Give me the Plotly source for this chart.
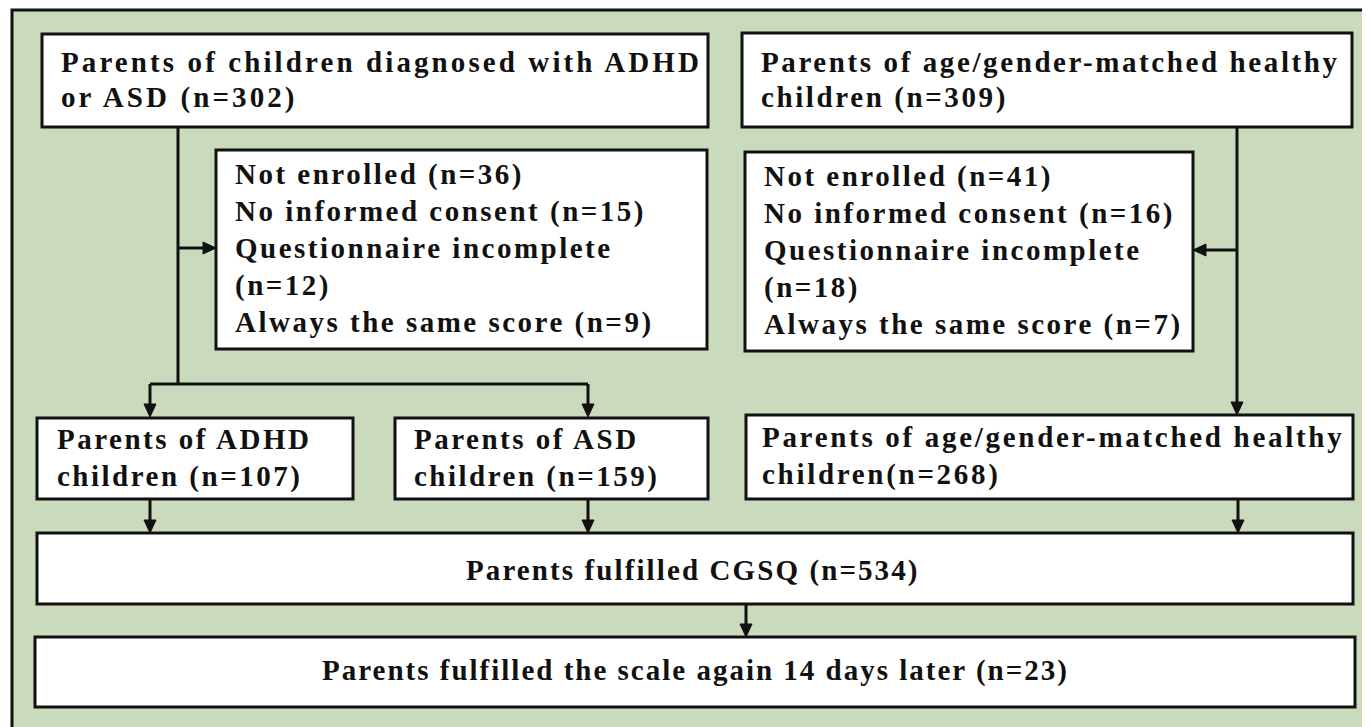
import plotly.graph_objects as go

# ---- data (flow counts) ----
adhd_asd_total = 302
healthy_total = 309
excl_labels = ["Not enrolled", "No informed consent", "Questionnaire incomplete", "Always the same score"]
excl_left = [36, 15, 12, 9]
excl_right = [41, 16, 18, 7]
adhd_n = 107
asd_n = 159
healthy_n = 268
cgsq_n = 534
retest_n = 23

W, H = 1370, 727
OFF = 8  # page body margin
BG = "#cadabd"
INK = "#111111"
FAMILY = "Liberation Serif, Times New Roman, serif"

fig = go.Figure()
shapes = []
annotations = []


def box(x0, y0, x1, y1):
    shapes.append(dict(type="rect", x0=x0, y0=y0, x1=x1, y1=y1, xref="x", yref="y",
                       line=dict(color=INK, width=3), fillcolor="white", layer="above"))


def line(x0, y0, x1, y1):
    shapes.append(dict(type="line", x0=x0, y0=y0, x1=x1, y1=y1, xref="x", yref="y",
                       line=dict(color=INK, width=3), layer="above"))


def tri(path):
    shapes.append(dict(type="path", path=path, xref="x", yref="y", fillcolor=INK,
                       line=dict(color=INK, width=1), layer="above"))


def arrow_down(x, y0, y1):
    line(x, y0, x, y1 - 10)
    tri(f"M {x-6},{y1-13} L {x+6},{y1-13} L {x},{y1} Z")


def arrow_right(x0, x1, y):
    line(x0, y, x1 - 10, y)
    tri(f"M {x1-13},{y-6} L {x1-13},{y+6} L {x1},{y} Z")


def arrow_left(x0, x1, y):
    line(x0, y, x1 + 10, y)
    tri(f"M {x1+13},{y-6} L {x1+13},{y+6} L {x1},{y} Z")


def text_lines(x, baselines, lines, anchor="left", size=29, ls=2.5):
    for bl, t in zip(baselines, lines):
        annotations.append(dict(
            x=x, y=bl - 0.34 * size, xref="x", yref="y",
            text=f'<b><span style="letter-spacing:{ls}px">{t}</span></b>',
            showarrow=False, xanchor=anchor, yanchor="middle", align=anchor,
            font=dict(family=FAMILY, size=size, color=INK)))


# outer frame
shapes.append(dict(type="rect", x0=12, y0=10, x1=1380, y1=740, xref="x", yref="y",
                   line=dict(color=INK, width=3), fillcolor=BG, layer="below"))

# top boxes
box(42, 34, 708, 127)
text_lines(59, [72, 107], ["Parents of children diagnosed with ADHD", f"or ASD (n={adhd_asd_total})"], ls=3.1)
box(742, 33, 1352, 127)
text_lines(759, [72, 107], ["Parents of age/gender-matched healthy", f"children (n={healthy_total})"], ls=2.6)

# exclusion boxes
box(216, 150, 707, 349)
text_lines(233, [184, 221, 258, 295, 332],
           [f"{excl_labels[0]} (n={excl_left[0]})", f"{excl_labels[1]} (n={excl_left[1]})",
            f"{excl_labels[2]}", f"(n={excl_left[2]})", f"{excl_labels[3]} (n={excl_left[3]})"])
box(745, 152, 1193, 351)
text_lines(762, [186, 223, 260, 297, 334],
           [f"{excl_labels[0]} (n={excl_right[0]})", f"{excl_labels[1]} (n={excl_right[1]})",
            f"{excl_labels[2]}", f"(n={excl_right[2]})", f"{excl_labels[3]} (n={excl_right[3]})"])

# connectors
line(178, 127, 178, 384)
arrow_right(178, 216, 248)
line(150, 384, 588, 384)
arrow_down(150, 384, 417)
arrow_down(588, 384, 417)
line(1237, 127, 1237, 250)
arrow_left(1237, 1193, 250)
arrow_down(1237, 250, 415)

# middle boxes
box(37, 418, 353, 499)
text_lines(55, [449, 486], ["Parents of ADHD", f"children (n={adhd_n})"])
box(395, 418, 708, 499)
text_lines(412, [449, 486], ["Parents of ASD", f"children (n={asd_n})"])
box(746, 415, 1353, 499)
text_lines(760, [447, 484], ["Parents of age/gender-matched healthy", f"children(n={healthy_n})"], ls=2.7)

arrow_down(150, 499, 533)
arrow_down(588, 499, 533)
arrow_down(1238, 499, 533)

box(37, 533, 1353, 604)
text_lines(693, [580], [f"Parents fulfilled CGSQ (n={cgsq_n})"], anchor="center", ls=2.1)

arrow_down(746, 604, 637)

box(35, 637, 1355, 707)
text_lines(695, [680], [f"Parents fulfilled the scale again 14 days later (n={retest_n})"],
           anchor="center", ls=2.0)

fig.update_layout(
    width=W - OFF, height=H - OFF, margin=dict(l=0, r=0, t=0, b=0),
    paper_bgcolor="white", plot_bgcolor="white",
    xaxis=dict(range=[OFF, W], visible=False, fixedrange=True),
    yaxis=dict(range=[H, OFF], visible=False, fixedrange=True),
    shapes=shapes, annotations=annotations, showlegend=False,
)
fig.write_html("out.html")
